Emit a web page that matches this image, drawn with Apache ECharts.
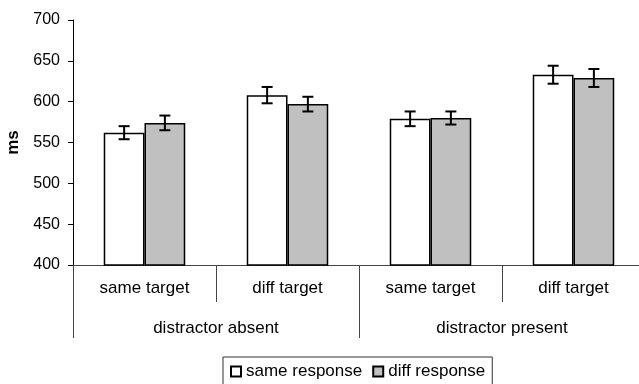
<!DOCTYPE html>
<html>
<head>
<meta charset="utf-8">
<script src="https://cdn.jsdelivr.net/npm/echarts@6/dist/echarts.min.js"></script>
<style>html,body{margin:0;padding:0;background:#fff}#c{width:639px;height:384px}</style>
</head>
<body>
<div id="c"></div>
<script>
var targetCats = ['same target', 'diff target', 'same target', 'diff target'];
var distractorCats = ['distractor absent', 'distractor present'];
var seriesNames = ['same response', 'diff response'];
var sameResp = [562, 608, 579, 633];
var diffResp = [574, 597, 580, 629];
var sameErr = [8, 10, 9, 11];
var diffErr = [9, 9, 8, 11];
var yTicks = [400, 450, 500, 550, 600, 650, 700];

var FONT = 'Liberation Sans, Arial, sans-serif';
var GAP = 0.43;

function errData(vals, errs, side) {
  return vals.map(function (v, i) { return [i, v, errs[i], side]; });
}

var chart = echarts.init(document.getElementById('c'));
chart.setOption({
  animation: false,
  textStyle: { fontFamily: FONT },
  grid: { left: 73, top: 20, width: 572, bottom: 119, containLabel: false, outerBoundsMode: 'none' },
  legend: {
    data: seriesNames,
    top: 357, left: 223,
    orient: 'horizontal',
    borderColor: '#333', borderWidth: 1,
    padding: [6, 7, 6, 7],
    itemWidth: 10, itemHeight: 10, itemGap: 10,
    icon: 'rect',
    textStyle: { fontFamily: FONT, fontSize: 17, color: '#000' }
  },
  xAxis: [{
    type: 'category', data: targetCats, position: 'bottom',
    axisLine: { lineStyle: { color: '#444', width: 1 } },
    axisTick: { show: true, interval: 0, length: 37, alignWithLabel: false, lineStyle: { color: '#444' } },
    axisLabel: { interval: 0, margin: 15, fontSize: 17, color: '#000', fontFamily: FONT }
  }, {
    type: 'category', data: distractorCats, position: 'bottom', gridIndex: 0,
    axisLine: { show: false },
    axisTick: { show: true, interval: 0, length: 73, alignWithLabel: false, lineStyle: { color: '#444' } },
    axisLabel: { interval: 0, margin: 55, fontSize: 17, color: '#000', fontFamily: FONT }
  }],
  yAxis: {
    type: 'value', min: 400, max: 700, interval: 50,
    name: 'ms', nameLocation: 'middle', nameGap: 51, nameRotate: 90,
    nameTextStyle: { fontWeight: 'bold', fontSize: 17, color: '#000', fontFamily: FONT },
    axisLine: { show: true, lineStyle: { color: '#000', width: 1 } },
    axisTick: { show: true, length: 5, lineStyle: { color: '#000' } },
    axisLabel: { margin: 13, fontSize: 16, color: '#000', fontFamily: FONT,
      formatter: function (v) { return yTicks.indexOf(v) >= 0 ? String(v) : ''; } },
    splitLine: { show: false }
  },
  series: [{
    name: seriesNames[0], type: 'bar', data: sameResp, xAxisIndex: 0,
    barGap: '0%', barCategoryGap: (GAP * 100) + '%',
    itemStyle: { color: '#ffffff', borderColor: '#000', borderWidth: 1.5 }
  }, {
    name: seriesNames[1], type: 'bar', data: diffResp, xAxisIndex: 0,
    barGap: '0%', barCategoryGap: (GAP * 100) + '%',
    itemStyle: { color: '#c0c0c0', borderColor: '#000', borderWidth: 1.5 }
  }, {
    type: 'custom', xAxisIndex: 0, z: 10, silent: true,
    data: errData(sameResp, sameErr, -1).concat(errData(diffResp, diffErr, 1)),
    encode: { x: 0, y: 1 },
    renderItem: function (params, api) {
      var idx = api.value(0), v = api.value(1), e = api.value(2), side = api.value(3);
      var band = api.size([1, 0])[0];
      var bw = band * (1 - GAP) / 2;
      var c = api.coord([idx, v]);
      var x = c[0] + side * bw / 2;
      var top = api.coord([idx, v + e])[1];
      var bot = api.coord([idx, v - e])[1];
      var hw = 5.5;
      var st = { stroke: '#000', lineWidth: 2 };
      return { type: 'group', children: [
        { type: 'line', shape: { x1: x, y1: top, x2: x, y2: bot }, style: st },
        { type: 'line', shape: { x1: x - hw, y1: top, x2: x + hw, y2: top }, style: st },
        { type: 'line', shape: { x1: x - hw, y1: bot, x2: x + hw, y2: bot }, style: st }
      ] };
    }
  }]
});
</script>
</body>
</html>
